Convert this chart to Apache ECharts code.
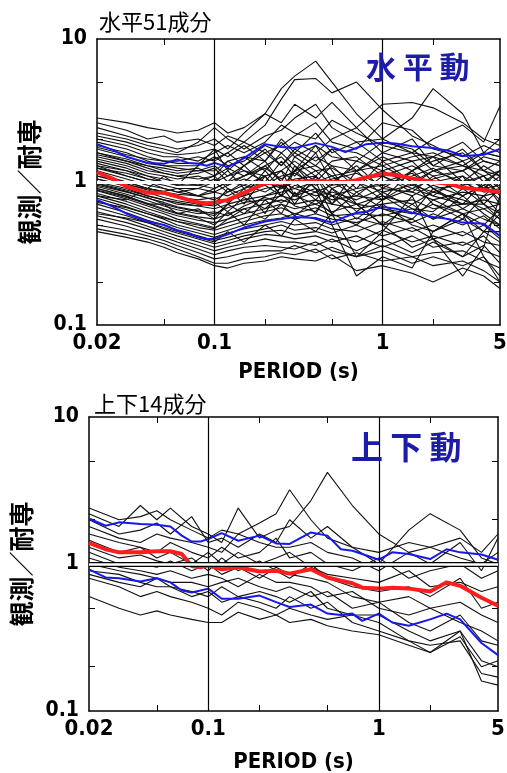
<!DOCTYPE html>
<html><head><meta charset="utf-8">
<script src="https://cdn.jsdelivr.net/npm/echarts@6/dist/echarts.min.js"></script>
<style>html,body{margin:0;padding:0;background:#fff}#c{width:507px;height:773px}</style>
</head><body><div id="c"></div>
<script>
// Periods (s) at which the individual ratio curves are read
const periods = [0.02,0.03,0.04,0.05,0.06,0.08,0.1,0.12,0.15,0.2,0.25,0.3,0.4,0.5,0.7,1,1.5,2,3,4,5];
// Periods at which mean / mean±σ curves are read
const statPeriods = [0.02,0.025,0.03,0.04,0.05,0.06,0.07,0.08,0.09,0.1,0.12,0.15,0.2,0.25,0.3,0.4,0.5,0.6,0.7,0.8,1,1.2,1.5,2,2.5,3,4,5];
const xTickLabels = [0.02, 0.1, 1, 5];
const xTicks = [0.05, 0.1, 0.2, 0.5, 1, 2];
const yTickLabels = [0.1, 1, 10];
const yTicks = [0.2, 0.5, 1, 2, 5];
const gridLinesX = [0.1, 1];
const refLineY = 1;

// 水平動 : 51 individual components (observed / 耐専 ratio)
const horizCurves = [
 [2.8,2.6,2.4,2.3,2.2,2.3,2.6,2.2,2.4,3.0,4.5,5.5,7.0,5.0,3.0,2.0,1.6,1.5,1.3,1.2,1.1],
 [2.6,2.3,2.0,2.1,1.9,2.0,1.8,2.1,1.9,2.5,3.8,5.2,5.3,4.2,5.0,3.2,2.1,1.8,1.4,1.6,2.0],
 [2.4,2.1,1.9,1.8,1.7,1.8,2.0,1.7,2.2,3.0,2.6,3.5,2.8,3.6,2.4,3.5,3.6,3.3,2.6,2.0,1.8],
 [2.2,2.0,1.8,1.7,1.6,1.9,2.4,2.0,1.7,2.1,2.3,2.8,3.5,2.4,1.9,2.0,2.8,4.5,3.0,1.6,1.5],
 [2.0,1.8,1.6,1.5,1.5,1.4,1.6,1.8,1.6,1.9,2.5,2.2,2.0,2.7,2.2,1.8,1.6,2.0,2.5,1.9,3.4],
 [1.9,1.7,1.5,1.4,1.4,1.5,1.4,1.6,1.9,1.6,1.8,2.1,2.6,1.9,1.7,2.6,2.3,1.7,1.5,1.8,1.6],
 [1.8,1.6,1.4,1.3,1.3,1.3,1.5,1.3,1.4,1.8,1.6,1.9,1.6,2.0,2.4,1.6,1.4,1.5,1.9,1.4,1.3],
 [1.7,1.5,1.35,1.3,1.25,1.2,1.2,1.4,1.5,1.4,1.9,1.5,1.8,1.5,1.4,1.9,1.7,1.3,1.2,1.5,1.4],
 [1.6,1.4,1.3,1.2,1.15,1.2,1.3,1.1,1.3,1.6,1.3,1.7,1.4,1.7,1.6,1.3,1.5,1.6,1.3,1.1,1.2],
 [1.5,1.35,1.2,1.15,1.1,1.05,1.1,1.25,1.1,1.3,1.5,1.2,1.5,1.3,1.2,1.5,1.2,1.4,1.6,1.2,1.0],
 [1.45,1.3,1.15,1.1,1.05,1.1,1.0,1.1,1.2,1.1,1.2,1.4,1.1,1.4,1.5,1.1,1.3,1.1,1.2,1.4,1.3],
 [1.4,1.25,1.1,1.05,1.0,0.95,1.05,0.95,1.1,1.25,1.05,1.2,1.3,1.1,1.2,1.3,1.0,1.2,1.0,1.1,0.9],
 [1.3,1.2,1.05,1.0,0.95,0.95,0.9,1.0,0.95,1.1,1.2,1.0,1.2,1.25,1.0,1.2,1.4,1.0,1.1,0.9,1.1],
 [1.25,1.1,1.0,0.95,0.9,0.9,0.85,0.95,1.05,0.95,1.1,1.15,0.95,1.05,1.15,0.95,1.1,1.25,0.95,1.0,0.85],
 [1.2,1.05,0.95,0.9,0.85,0.8,0.85,0.8,0.9,1.0,0.9,1.05,1.1,0.9,1.05,1.1,0.9,1.05,1.2,0.9,0.95],
 [1.15,1.0,0.9,0.85,0.82,0.8,0.75,0.85,0.95,0.85,1.0,0.9,1.0,1.1,0.85,1.0,1.15,0.9,0.95,1.1,0.8],
 [1.1,0.97,0.88,0.82,0.78,0.75,0.78,0.72,0.85,0.95,0.8,0.95,0.85,0.95,1.0,0.85,0.95,0.85,1.0,0.85,0.9],
 [1.05,0.93,0.84,0.78,0.74,0.7,0.68,0.75,0.8,0.9,0.95,0.8,0.9,0.8,0.9,0.95,0.8,0.95,0.8,0.95,0.75],
 [1.0,0.9,0.8,0.75,0.7,0.68,0.65,0.7,0.75,0.8,0.85,0.9,0.8,0.85,0.75,0.9,0.85,0.75,0.85,0.8,0.85],
 [0.97,0.86,0.77,0.72,0.67,0.63,0.6,0.66,0.72,0.75,0.8,0.75,0.85,0.75,0.8,0.75,0.9,0.8,0.7,0.75,0.7],
 [0.93,0.82,0.74,0.68,0.64,0.6,0.62,0.58,0.68,0.78,0.72,0.8,0.7,0.8,0.7,0.8,0.7,0.85,0.75,0.65,0.7],
 [0.9,0.79,0.71,0.65,0.61,0.57,0.55,0.6,0.65,0.7,0.75,0.7,0.75,0.7,0.65,0.7,0.75,0.65,0.7,0.7,0.6],
 [0.87,0.76,0.68,0.62,0.58,0.54,0.52,0.55,0.6,0.65,0.7,0.65,0.7,0.62,0.7,0.65,0.6,0.7,0.6,0.65,0.55],
 [0.83,0.73,0.65,0.6,0.55,0.51,0.48,0.52,0.56,0.62,0.66,0.6,0.66,0.58,0.6,0.58,0.65,0.55,0.65,0.55,0.5],
 [0.8,0.7,0.62,0.57,0.53,0.48,0.46,0.49,0.53,0.58,0.6,0.55,0.6,0.55,0.52,0.6,0.52,0.6,0.5,0.58,0.47],
 [0.77,0.67,0.6,0.55,0.5,0.46,0.43,0.46,0.5,0.54,0.56,0.6,0.55,0.5,0.56,0.5,0.55,0.45,0.55,0.45,0.45],
 [0.74,0.64,0.57,0.52,0.48,0.44,0.41,0.44,0.47,0.5,0.53,0.5,0.52,0.47,0.45,0.53,0.45,0.5,0.42,0.5,0.4],
 [0.7,0.61,0.54,0.5,0.46,0.42,0.39,0.41,0.44,0.47,0.5,0.46,0.48,0.44,0.5,0.42,0.48,0.4,0.45,0.38,0.36],
 [0.66,0.58,0.52,0.47,0.44,0.4,0.37,0.39,0.42,0.45,0.46,0.43,0.45,0.42,0.38,0.46,0.38,0.42,0.36,0.42,0.32],
 [0.62,0.55,0.49,0.45,0.42,0.38,0.35,0.37,0.4,0.43,0.42,0.4,0.42,0.38,0.42,0.35,0.42,0.35,0.38,0.33,0.3],
 [0.58,0.52,0.47,0.43,0.4,0.36,0.33,0.35,0.37,0.4,0.38,0.38,0.36,0.4,0.33,0.4,0.32,0.38,0.3,0.36,0.27],
 [0.55,0.49,0.44,0.41,0.38,0.34,0.31,0.33,0.35,0.36,0.35,0.34,0.38,0.33,0.3,0.36,0.3,0.32,0.33,0.28,0.25],
 [0.5,0.46,0.42,0.39,0.36,0.32,0.29,0.3,0.32,0.33,0.33,0.36,0.32,0.35,0.3,0.33,0.27,0.3,0.26,0.3,0.22],
 [0.47,0.43,0.4,0.37,0.34,0.3,0.27,0.27,0.29,0.3,0.32,0.31,0.34,0.29,0.32,0.28,0.3,0.26,0.28,0.24,0.2],
 [0.45,0.41,0.38,0.35,0.32,0.29,0.26,0.25,0.27,0.28,0.3,0.29,0.28,0.31,0.24,0.26,0.23,0.2,0.25,0.22,0.18],
 [0.8,0.75,0.9,1.1,0.95,1.3,1.7,1.2,0.9,1.1,0.8,1.2,1.8,1.2,0.7,0.5,0.35,0.4,0.3,0.45,0.6],
 [1.3,1.1,1.0,0.9,0.85,0.9,1.0,0.85,1.0,1.3,1.0,0.8,1.0,0.6,0.3,0.45,0.8,0.4,0.22,0.35,0.8],
 [0.9,0.8,0.7,0.7,0.6,0.65,0.55,0.7,0.6,0.8,0.9,1.2,0.9,0.5,0.22,0.3,0.25,0.45,0.6,0.3,0.2],
 [1.35,1.2,1.1,1.0,1.0,0.95,1.0,1.2,1.5,1.2,1.6,1.3,1.0,1.3,0.9,1.4,1.0,0.8,1.1,0.7,0.9],
 [1.1,1.0,0.9,0.85,0.8,0.7,0.7,0.9,0.7,1.1,0.8,1.3,0.9,0.7,1.2,0.8,0.6,0.9,0.7,1.0,0.7],
 [0.95,0.85,0.78,0.7,0.66,0.62,0.58,0.7,0.9,0.6,0.95,0.7,1.1,0.8,0.55,0.75,1.0,0.7,0.55,0.8,0.6],
 [0.88,0.78,0.7,0.64,0.6,0.56,0.5,0.62,0.5,0.75,0.6,0.85,0.6,0.9,0.7,0.5,0.7,0.55,0.8,0.6,0.5],
 [1.6,1.45,1.3,1.25,1.2,1.25,1.1,1.4,1.2,1.0,1.4,1.1,1.6,1.0,1.3,0.9,1.2,1.5,1.0,1.3,1.1],
 [2.1,1.9,1.7,1.6,1.55,1.6,1.7,1.5,1.8,1.4,2.0,1.6,1.3,1.7,1.2,1.6,2.0,1.3,1.7,1.2,1.4],
 [1.25,1.15,1.05,1.0,0.95,1.0,1.1,0.9,0.8,1.2,0.9,1.0,0.75,1.0,0.8,1.1,0.85,1.1,0.8,0.95,1.2],
 [0.72,0.66,0.6,0.56,0.53,0.5,0.47,0.55,0.65,0.55,0.7,0.58,0.75,0.6,0.85,0.65,0.55,0.75,0.6,0.5,0.65],
 [0.6,0.56,0.52,0.48,0.45,0.41,0.38,0.45,0.38,0.5,0.42,0.55,0.45,0.6,0.5,0.7,0.5,0.45,0.6,0.45,0.38],
 [1.05,0.95,0.9,0.86,0.9,0.8,0.9,1.0,1.3,0.95,1.2,0.8,1.1,0.7,1.0,0.75,1.2,0.9,0.65,0.8,1.0],
 [1.55,1.4,1.25,1.15,1.1,1.15,1.25,1.0,1.1,1.4,1.0,1.5,1.2,0.95,1.4,1.2,0.95,1.2,1.4,1.0,1.2],
 [0.98,0.88,0.8,0.75,0.72,0.68,0.72,0.62,0.78,0.65,0.82,0.68,0.62,0.9,0.62,0.85,0.65,0.62,0.9,0.7,0.55],
 [1.75,1.55,1.45,1.4,1.35,1.35,1.45,1.6,1.3,1.7,1.3,1.6,2.2,1.6,1.9,1.4,1.6,1.2,1.3,1.6,1.5]
];
const horizMean  = [1.17,1.05,0.93,0.84,0.84,0.79,0.75,0.72,0.71,0.72,0.75,0.84,0.98,0.99,1.0,1.02,1.0,1.0,1.03,1.08,1.14,1.12,1.06,1.0,0.97,0.91,0.88,0.85];
const horizPlus  = [1.84,1.67,1.5,1.36,1.34,1.44,1.36,1.34,1.3,1.36,1.27,1.47,1.84,1.76,1.73,1.87,1.76,1.62,1.73,1.84,1.88,1.86,1.78,1.73,1.65,1.52,1.55,1.7];
const horizMinus = [0.75,0.67,0.6,0.53,0.5,0.46,0.44,0.41,0.4,0.4,0.43,0.48,0.53,0.55,0.57,0.56,0.52,0.57,0.61,0.62,0.67,0.65,0.61,0.57,0.55,0.52,0.51,0.42];

// 上下動 : 14 individual components
const vertCurves = [
 [2.4,2.0,2.1,2.3,2.0,1.7,1.5,1.7,1.6,1.9,2.2,3.2,2.0,1.5,1.3,1.2,1.4,1.3,1.5,1.2,1.6],
 [2.2,1.8,2.5,2.0,2.4,1.8,1.6,1.4,2.4,1.5,1.7,1.8,2.7,4.2,2.5,1.6,1.2,1.3,1.1,1.0,1.2],
 [2.0,1.6,1.7,1.9,1.6,2.1,1.4,1.5,1.3,1.6,1.4,2.0,1.5,1.8,1.3,1.0,1.7,2.2,1.7,1.1,1.0],
 [1.8,1.5,1.4,1.6,1.5,1.4,1.3,1.2,1.6,1.4,1.3,1.3,1.4,1.2,1.1,0.9,1.2,1.0,1.4,0.9,1.5],
 [1.6,1.4,1.3,1.2,1.4,1.2,1.1,1.3,1.1,1.2,1.5,1.1,1.2,1.0,0.9,1.1,0.8,0.9,1.0,0.8,0.9],
 [1.45,1.2,1.3,1.1,1.2,1.0,1.2,1.0,1.2,1.0,1.1,1.2,0.95,0.85,0.8,0.75,0.9,0.7,0.75,0.65,0.7],
 [1.3,1.1,1.15,1.05,1.0,1.1,0.9,1.1,0.9,1.05,0.9,0.8,1.0,0.8,0.7,0.65,0.7,0.6,0.8,0.5,0.55],
 [1.2,1.0,1.0,0.95,1.05,0.9,1.0,0.85,0.95,0.8,0.95,0.85,0.8,0.75,0.6,0.55,0.6,0.5,0.55,0.45,0.4],
 [1.1,0.95,0.9,0.85,0.9,0.8,0.85,0.8,0.7,0.85,0.75,0.75,0.7,0.6,0.65,0.5,0.45,0.5,0.4,0.35,0.3],
 [1.0,0.9,0.85,0.8,0.75,0.75,0.7,0.75,0.8,0.7,0.65,0.7,0.6,0.65,0.5,0.55,0.4,0.35,0.45,0.3,0.28],
 [0.9,0.85,0.75,0.7,0.7,0.65,0.6,0.7,0.6,0.65,0.6,0.55,0.65,0.5,0.45,0.45,0.35,0.3,0.35,0.22,0.2],
 [0.85,0.75,0.7,0.8,0.7,0.6,0.65,0.55,0.6,0.55,0.5,0.6,0.5,0.55,0.4,0.35,0.3,0.28,0.3,0.18,0.17],
 [0.8,0.7,0.6,0.65,0.6,0.55,0.5,0.45,0.55,0.5,0.45,0.5,0.45,0.42,0.45,0.4,0.3,0.25,0.32,0.2,0.22],
 [0.6,0.5,0.45,0.48,0.45,0.42,0.4,0.4,0.47,0.42,0.45,0.4,0.42,0.38,0.35,0.33,0.28,0.25,0.35,0.16,0.15]
];
const vertMean  = [1.39,1.26,1.2,1.2,1.22,1.22,1.17,0.97,0.95,0.98,0.92,0.95,0.89,0.9,0.86,0.92,0.81,0.77,0.74,0.69,0.68,0.69,0.68,0.65,0.75,0.71,0.59,0.52];
const vertPlus  = [2.04,1.82,1.92,1.87,1.85,1.8,1.56,1.42,1.42,1.48,1.62,1.44,1.56,1.38,1.37,1.64,1.56,1.26,1.23,1.17,1.07,1.2,1.17,1.08,1.26,1.2,1.16,1.07];
const vertMinus = [0.92,0.81,0.8,0.76,0.8,0.75,0.66,0.64,0.66,0.68,0.58,0.58,0.61,0.55,0.51,0.53,0.46,0.45,0.46,0.41,0.46,0.4,0.38,0.42,0.46,0.42,0.29,0.24];

const panelTitles = ['水平51成分', '上下14成分'];
const panelLabels = ['水 平 動', '上 下 動'];
const xName = 'PERIOD (s)';
const yName = '観測／耐専';

const LBL_FONT = 'DejaVu Sans Condensed';
const CJK = 'Noto Sans CJK JP';
const fmt = v => String(parseFloat(Number(v).toPrecision(6)));
const pairs = (xs, ys) => xs.map((x, i) => [x, ys[i]]);

function xAxisDef(gi, pos, main, gap) {
  return {
    type: 'log', logBase: 10, gridIndex: gi, position: pos, min: 0.02, max: 5,
    name: main ? xName : '', nameLocation: 'middle', nameGap: gap,
    nameTextStyle: { fontFamily: LBL_FONT, fontWeight: 'bold', fontSize: 22, color: '#000' },
    axisLine: { show: true, onZero: false, lineStyle: { color: '#000', width: 1.5 } },
    axisTick: { show: true, inside: true, length: 6, customValues: xTicks, lineStyle: { color: '#000', width: 1 } },
    axisLabel: { show: main, customValues: xTickLabels, formatter: fmt, margin: 7,
      fontFamily: LBL_FONT, fontWeight: 'bold', fontSize: 22, color: '#000' },
    splitLine: { show: false }, minorTick: { show: false }
  };
}
function yAxisDef(gi, pos, main) {
  return {
    type: 'log', logBase: 10, gridIndex: gi, position: pos, min: 0.1, max: 10,
    name: main ? yName : '', nameLocation: 'middle', nameGap: 55, nameRotate: 90,
    nameTextStyle: { fontFamily: CJK, fontSize: 25, fontWeight: 'bold', color: '#000' },
    axisLine: { show: true, onZero: false, lineStyle: { color: '#000', width: 1.5 } },
    axisTick: { show: true, inside: true, length: 6, customValues: yTicks, lineStyle: { color: '#000', width: 1 } },
    axisLabel: { show: main, customValues: yTickLabels, formatter: fmt, margin: 10,
      fontFamily: LBL_FONT, fontWeight: 'bold', fontSize: 21, color: '#000' },
    splitLine: { show: false }, minorTick: { show: false }
  };
}

function panelSeries(pi, curves, mean, plus, minus) {
  const xi = pi * 2, yi = pi * 2;
  const out = [];
  curves.forEach((c, k) => out.push({
    type: 'line', xAxisIndex: xi, yAxisIndex: yi, data: pairs(periods, c),
    symbol: 'none', silent: true, z: 2,
    lineStyle: { color: '#111', width: 1.1 },
    markLine: k === 0 ? { symbol: 'none', silent: true, label: { show: false },
      lineStyle: { color: '#000', width: 1.2, type: 'solid' },
      data: gridLinesX.map(v => ({ xAxis: v })) } : undefined
  }));
  [plus, minus].forEach(s => out.push({
    type: 'line', xAxisIndex: xi, yAxisIndex: yi, data: pairs(statPeriods, s),
    symbol: 'none', silent: true, z: 3, lineStyle: { color: '#1717f0', width: 2 }
  }));
  out.push({
    type: 'line', xAxisIndex: xi, yAxisIndex: yi, data: pairs(statPeriods, mean),
    symbol: 'none', silent: true, z: 4, lineStyle: { color: '#ff1c1c', width: 4 }
  });
  out.push({
    type: 'line', xAxisIndex: xi, yAxisIndex: yi, data: [], z: 5, silent: true,
    markLine: { symbol: 'none', silent: true, label: { show: false },
      lineStyle: { color: '#000', width: pi === 0 ? 1 : 5, type: 'solid' }, data: [{ yAxis: refLineY }] }
  });
  out.push({
    type: 'line', xAxisIndex: xi, yAxisIndex: yi, data: [], z: 6, silent: true,
    markLine: { symbol: 'none', silent: true, label: { show: false },
      lineStyle: { color: '#fff', width: pi === 0 ? 3 : 2.5, type: 'solid' }, data: [{ yAxis: refLineY }] }
  });
  return out;
}

const chart = echarts.init(document.getElementById('c'), null, { renderer: 'canvas' });
chart.setOption({
  animation: false,
  backgroundColor: '#fff',
  title: [
    { text: panelTitles[0], left: 99, top: 11, padding: 0, textStyle: { fontFamily: CJK, fontSize: 22, fontWeight: 'normal', color: '#000' } },
    { text: panelLabels[0], left: 366, top: 52, padding: 0, textStyle: { fontFamily: CJK, fontSize: 30, fontWeight: 'bold', color: '#1c1ca8' } },
    { text: panelTitles[1], left: 94, top: 393, padding: 0, textStyle: { fontFamily: CJK, fontSize: 22, fontWeight: 'normal', color: '#000' } },
    { text: panelLabels[1], left: 351, top: 431, padding: 0, textStyle: { fontFamily: CJK, fontSize: 32, fontWeight: 'bold', color: '#1c1ca8' } }
  ],
  grid: [
    { left: 97, top: 39, width: 403, height: 286, outerBoundsMode: 'none', containLabel: false },
    { left: 89, top: 417, width: 409, height: 294, outerBoundsMode: 'none', containLabel: false }
  ],
  xAxis: [xAxisDef(0, 'bottom', true, 36), xAxisDef(0, 'top', false, 0), xAxisDef(1, 'bottom', true, 40), xAxisDef(1, 'top', false, 0)],
  yAxis: [yAxisDef(0, 'left', true), yAxisDef(0, 'right', false), yAxisDef(1, 'left', true), yAxisDef(1, 'right', false)],
  series: [].concat(
    panelSeries(0, horizCurves, horizMean, horizPlus, horizMinus),
    panelSeries(1, vertCurves, vertMean, vertPlus, vertMinus)
  )
});
</script>
</body></html>
